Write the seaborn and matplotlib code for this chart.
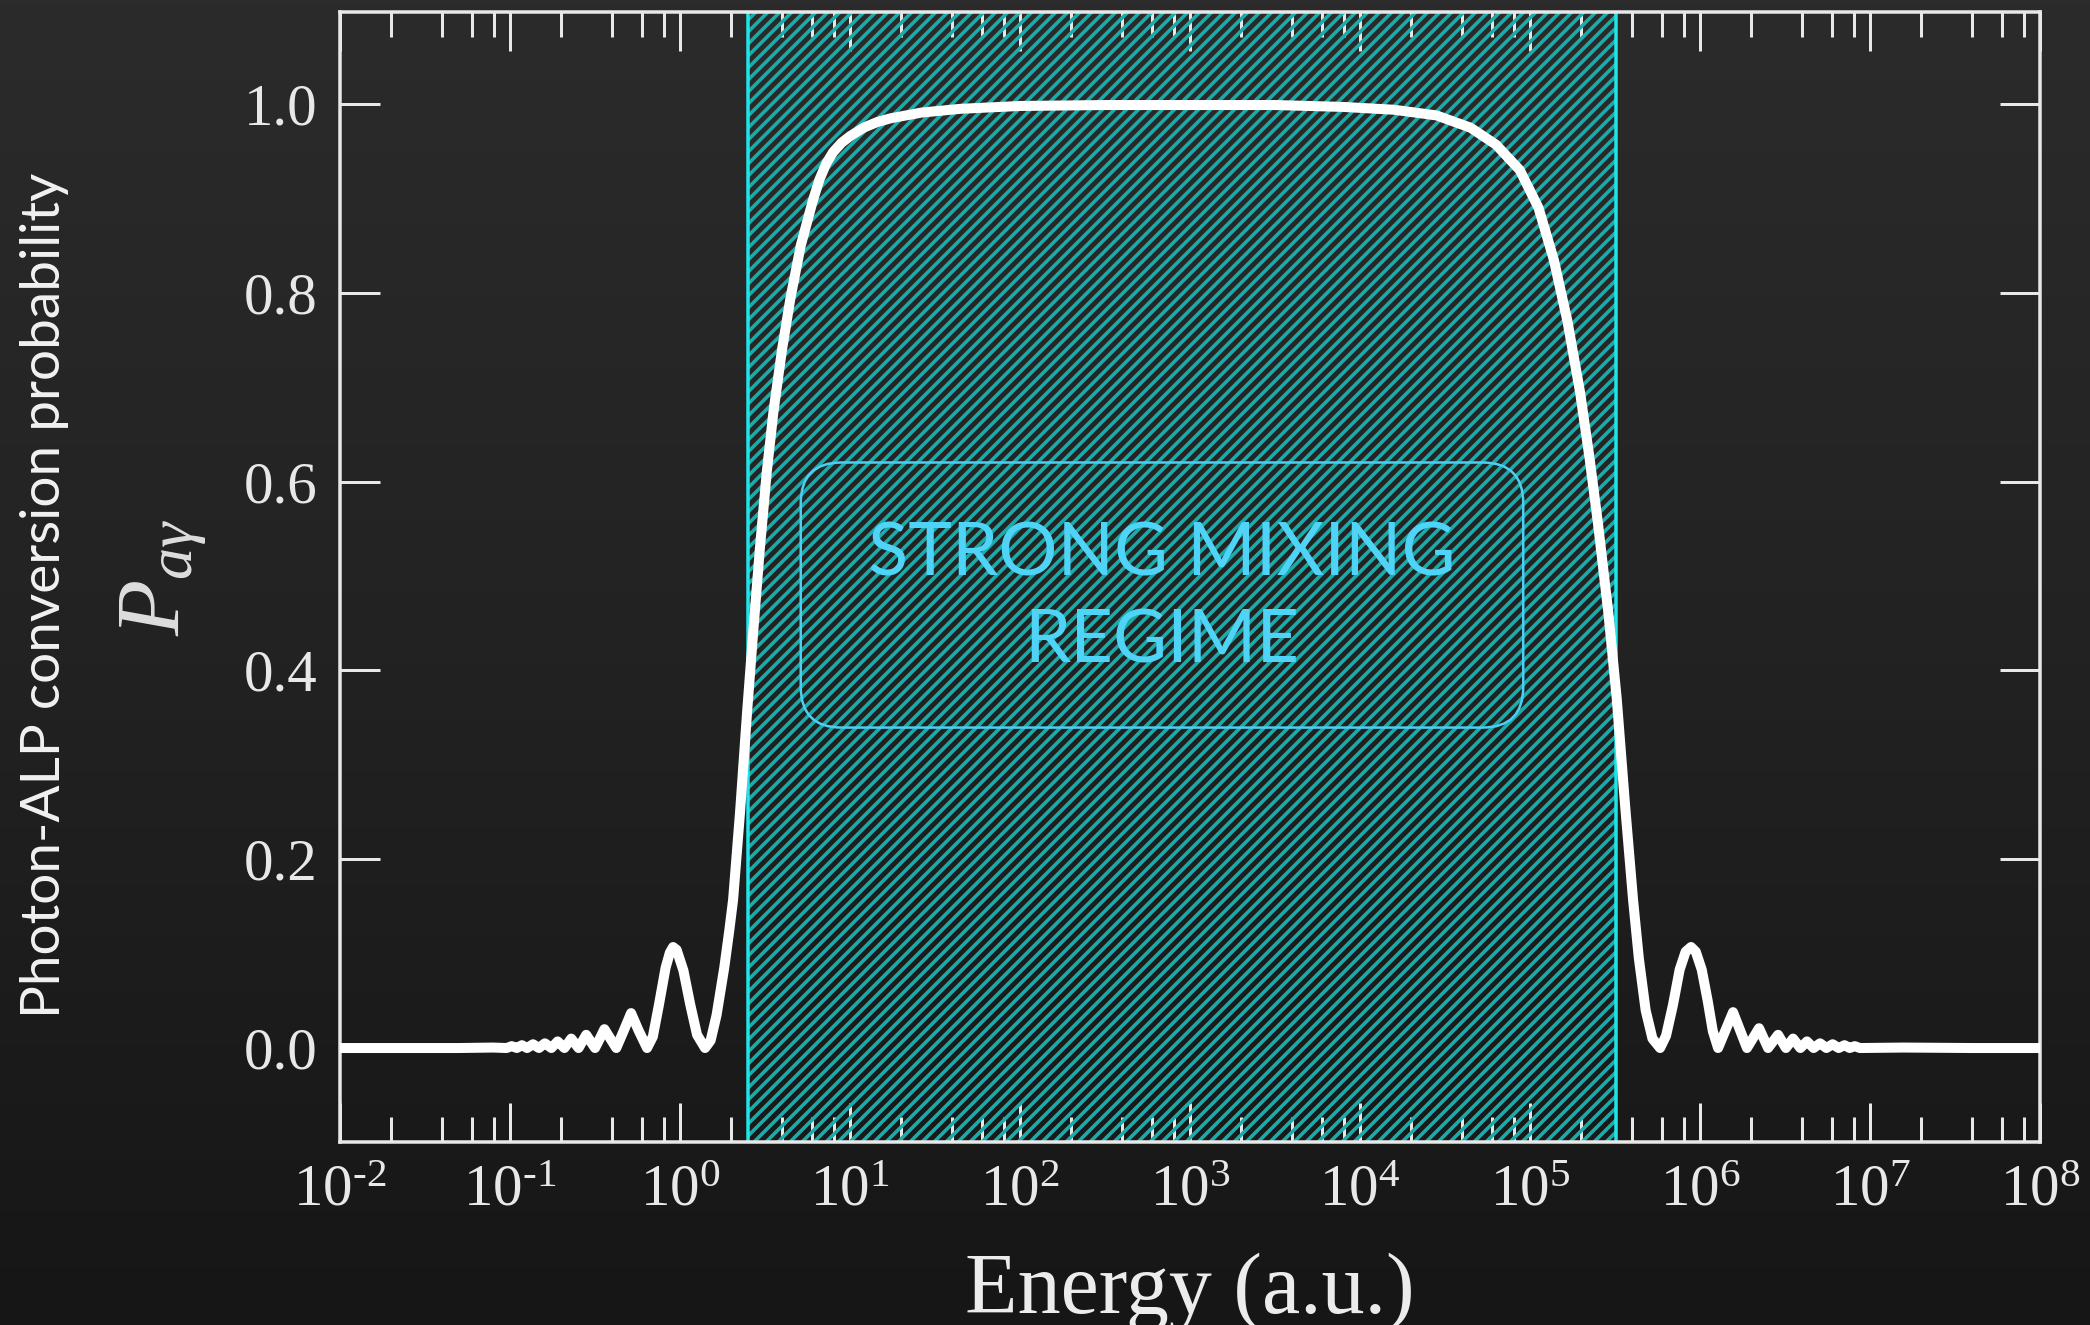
import numpy as np
import pandas as pd
import matplotlib
matplotlib.use("Agg")
import matplotlib.pyplot as plt
import seaborn as sns
from matplotlib.ticker import LogLocator, NullFormatter, FixedLocator, FuncFormatter
from matplotlib.patches import FancyBboxPatch
from matplotlib.colors import LinearSegmentedColormap

# ---- data -----------------------------------------------------------------
# photon -> ALP conversion probability against energy (arbitrary units)
energy = [
    1.0e-2, 2.51e-2, 5.01e-2, 7.94e-2,
    0.0955, 0.1023, 0.1096, 0.1175, 0.1259, 0.1365, 0.1479, 0.1603,
    0.1750, 0.1905, 0.2089, 0.2291, 0.2529, 0.2805, 0.3162, 0.3373,
    0.3589, 0.3890, 0.4217, 0.4656, 0.5152, 0.5689, 0.6397,
    0.6918, 0.7499, 0.8222, 0.8710, 0.9099, 0.9550, 1.0471, 1.1482,
    1.2589, 1.4028,
    1.5136, 1.6406, 1.8197, 1.9498, 2.0512, 2.2542, 2.4774, 2.6915,
    2.9512, 3.2359, 3.5481, 3.9811, 4.4668, 5.1286, 6.0256, 6.6069,
    7.2444, 7.9433, 8.9125, 10.0, 12.023, 14.454, 17.378, 26.303,
    44.668, 100.0, 316.23, 891.25,
    3162.3, 7943.3, 15849.0, 28184.0, 44668.0, 63096.0, 87096.0,
    1.12202e5, 1.38038e5, 1.65959e5, 1.96789e5, 2.23872e5, 2.51189e5,
    2.88403e5, 3.23594e5, 3.63078e5, 4.03645e5, 4.36516e5, 4.78630e5,
    5.24807e5, 5.82103e5,
    6.30957e5, 6.91831e5, 7.58578e5, 8.22243e5, 8.85116e5, 9.44061e5,
    1.023293e6, 1.109175e6, 1.188502e6, 1.276439e6,
    1.412538e6, 1.563148e6, 1.717908e6, 1.888000e6,
    2.0417e6, 2.2233e6, 2.3714e6, 2.5119e6,
    2.8774e6, 3.1989e6, 3.5237e6, 3.8905e6, 4.2560e6, 4.6559e6,
    5.0816e6, 5.5335e6, 6.0256e6, 6.5313e6, 7.0795e6, 7.5858e6,
    8.1283e6, 8.7096e6, 1.5849e7, 3.98e7, 1.0e8,
]
probability = [
    0.000, 0.000, 0.000, 0.0005,
    0.000, 0.002, 0.000, 0.003, 0.000, 0.004, 0.000, 0.005,
    0.000, 0.007, 0.000, 0.010, 0.000, 0.014, 0.000, 0.010,
    0.020, 0.010, 0.000, 0.018, 0.037, 0.019, 0.000,
    0.012, 0.045, 0.085, 0.101, 0.107, 0.104, 0.082, 0.046,
    0.014, 0.000,
    0.008, 0.035, 0.085, 0.125, 0.157, 0.250, 0.355, 0.440,
    0.530, 0.610, 0.675, 0.740, 0.795, 0.850, 0.897, 0.920,
    0.937, 0.949, 0.959, 0.966, 0.975, 0.981, 0.985, 0.991,
    0.995, 0.998, 0.999, 0.999,
    0.999, 0.997, 0.994, 0.988, 0.975, 0.957, 0.930,
    0.890, 0.835, 0.770, 0.695, 0.625, 0.555,
    0.462, 0.370, 0.255, 0.157, 0.095, 0.040,
    0.010, 0.000,
    0.013, 0.045, 0.083, 0.102, 0.107, 0.102,
    0.083, 0.050, 0.018, 0.000,
    0.019, 0.038, 0.019, 0.000,
    0.010, 0.021, 0.010, 0.000,
    0.014, 0.000, 0.010, 0.000, 0.007, 0.000,
    0.005, 0.000, 0.004, 0.000, 0.003, 0.000,
    0.002, 0.000, 0.0005, 0.000, 0.000,
]

mixing_band = [2.5, 3.2e5]           # strong-mixing energy range
y_ticks = [0.0, 0.2, 0.4, 0.6, 0.8, 1.0]
region_lines = ["STRONG MIXING", "REGIME"]

df = pd.DataFrame({"energy": energy, "P": probability})

# ---- style ----------------------------------------------------------------
sns.set_theme(style="ticks")
DPI = 72
plt.rcParams.update({
    "font.family": ["Liberation Serif", "DejaVu Serif"],
    "mathtext.fontset": "custom",
    "mathtext.rm": "Liberation Serif",
    "mathtext.it": "Liberation Serif:italic",
    "mathtext.bf": "Liberation Serif:bold",
    "hatch.linewidth": 3.6,
    "axes.linewidth": 3.5,
})

fg = "#e8e8e8"
fig = plt.figure(figsize=(2090 / DPI, 1325 / DPI), dpi=DPI)
fig.patch.set_facecolor("#202020")

# dark vertical gradient backdrop
bg = fig.add_axes([0, 0, 1, 1], zorder=-10)
grad = np.linspace(0, 1, 256).reshape(-1, 1)
cmap = LinearSegmentedColormap.from_list("bg", ["#2b2b2b", "#222222", "#161616"])
bg.imshow(grad, aspect="auto", cmap=cmap, extent=[0, 1, 0, 1], origin="upper")
bg.set_axis_off()

ax = fig.add_axes([0.1627, 0.1378, 0.8134, 0.8531])
ax.set_facecolor("none")

# hatched strong-mixing band
ax.axvspan(mixing_band[0], mixing_band[1], facecolor="none",
           edgecolor="#16adad", hatch="//", linewidth=0, zorder=1)
for e in mixing_band:
    ax.axvline(e, color="#1fe4e8", lw=3.5, zorder=2)

sns.lineplot(data=df, x="energy", y="P", ax=ax, color="white", lw=10,
             estimator=None, sort=True, zorder=3, solid_capstyle="round",
             solid_joinstyle="round")

ax.set_xscale("log")
ax.set_xlim(1e-2, 1e8)
ax.set_ylim(-0.1, 1.0975)
ax.xaxis.set_major_locator(LogLocator(base=10, numticks=30))
ax.xaxis.set_minor_locator(LogLocator(base=10, subs=(2, 4, 6, 8), numticks=200))
ax.xaxis.set_minor_formatter(NullFormatter())


def decade_label(v, pos):
    exp = int(round(np.log10(v)))
    return r"$\mathdefault{10^{%s}}$" % str(exp).replace("-", "\u2010")


ax.xaxis.set_major_formatter(FuncFormatter(decade_label))
ax.yaxis.set_major_locator(FixedLocator(y_ticks))
ax.yaxis.set_minor_locator(FixedLocator([]))

for s in ax.spines.values():
    s.set_color(fg)
    s.set_linewidth(3.5)
    s.set_visible(True)

ax.tick_params(axis="both", which="both", direction="in", top=True,
               right=True, colors=fg, width=3)
ax.tick_params(axis="x", which="major", length=39, pad=22, labelsize=59)
ax.tick_params(axis="x", which="minor", length=25)
ax.tick_params(axis="y", which="major", length=40, pad=23, labelsize=59)

ax.set_xlabel("Energy (a.u.)", fontsize=86, color="#ececec")
ax.xaxis.set_label_coords(0.5, -0.1506)
ax.xaxis.label.set_va("baseline")

ax.set_ylabel(r"$P_{a\gamma}$", fontsize=92, color="#dedede")
ax.yaxis.set_label_coords(-0.1035, 0.5)
ax.yaxis.label.set_va("center")

fig.text(45 / 2090, 1 - 595 / 1325, "Photon-ALP conversion probability",
         rotation=90, ha="center", va="center", family=["Lato", "DejaVu Sans"],
         fontweight="normal", fontsize=55, color="#f2f2f2")

# annotation box
box = FancyBboxPatch((0.271, 0.367), 0.425, 0.2345,
                     boxstyle="round,pad=0,rounding_size=0.024",
                     mutation_aspect=1700 / 1133,
                     transform=ax.transAxes, facecolor="none",
                     edgecolor="#4ccff2", lw=2.5, zorder=4)
ax.add_patch(box)
ax.text(0.4835, 0.5017, region_lines[0], transform=ax.transAxes,
        ha="center", va="baseline", family=["Lato", "DejaVu Sans"],
        fontsize=74, color="#4fd3f7", zorder=5)
ax.text(0.4835, 0.4249, region_lines[1], transform=ax.transAxes,
        ha="center", va="baseline", family=["Lato", "DejaVu Sans"],
        fontsize=74, color="#4fd3f7", zorder=5)

fig.savefig("out.png", dpi=DPI, facecolor=fig.get_facecolor())
